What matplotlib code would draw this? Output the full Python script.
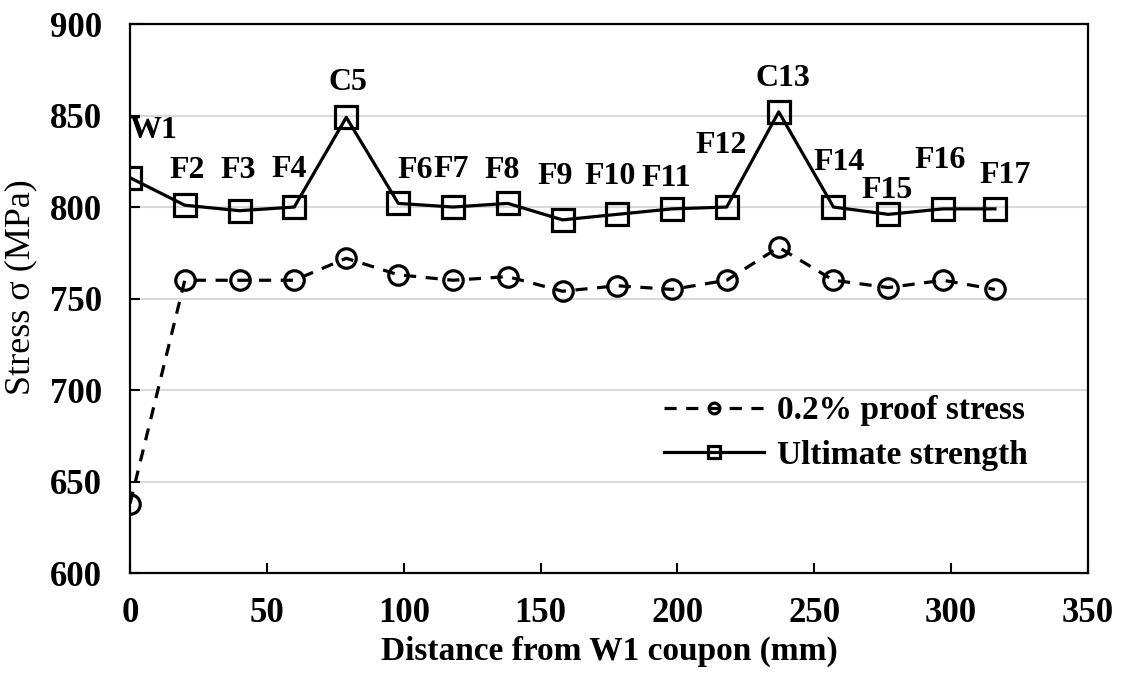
import matplotlib
matplotlib.use('Agg')
import matplotlib.pyplot as plt

plt.rcParams['font.family'] = ['Liberation Serif', 'DejaVu Serif']
plt.rcParams['font.weight'] = 'bold'

# data
labels = ['W1', 'F2', 'F3', 'F4', 'C5', 'F6', 'F7', 'F8', 'F9', 'F10',
          'F11', 'F12', 'C13', 'F14', 'F15', 'F16', 'F17']
distance = [0, 20, 40, 60, 79, 98, 118, 138, 158, 178, 198, 218, 237, 257, 277, 297, 316]
proof = [638, 760, 760, 760, 772, 763, 760, 762, 754, 757, 755, 760, 778, 760, 756, 760, 755]
ultimate = [816, 801, 798, 800, 849, 802, 800, 802, 793, 796, 799, 800, 852, 800, 796, 799, 799]

# label offsets (points) relative to the ultimate-strength markers
label_offsets = [(17, 34), (2, 25), (-1, 29), (-4, 27), (1, 25), (12, 24), (-1, 27),
                 (-4, 24), (-5, 31), (-5, 27), (-4, 22), (-4, 44), (3, 24), (4, 32),
                 (-1, 17), (-2, 35), (7, 24)]

fig = plt.figure(figsize=(11.24, 6.75), dpi=100)
ax = fig.add_axes([0.1157, 0.151, 0.8523, 0.8134])

ax.plot(distance, proof, color='black', linestyle=(0, (3.8, 3)), linewidth=2.3,
        marker='o', markersize=14, markerfacecolor='none', markeredgewidth=2.3,
        label='0.2% proof stress')
ax.plot(distance, ultimate, color='black', linestyle='-', linewidth=2.3,
        marker='s', markersize=16, markerfacecolor='none', markeredgewidth=2.3,
        label='Ultimate strength')

for lab, x, y, off in zip(labels, distance, ultimate, label_offsets):
    ax.annotate(lab, (x, y), xytext=off, textcoords='offset points',
                ha='center', va='center', fontsize=23, fontweight='bold')

ax.set_xlim(0, 350)
ax.set_ylim(600, 900)
ax.set_xticks(range(0, 351, 50))
ax.set_yticks(range(600, 901, 50))
ax.yaxis.grid(True, color='#d9d9d9', linewidth=1.5)
ax.set_axisbelow(True)

for s in ax.spines.values():
    s.set_linewidth(1.6)

ax.tick_params(axis='both', direction='in', length=7, width=1.5, labelsize=25)
ax.tick_params(axis='x', pad=17)
ax.tick_params(axis='y', pad=20)

ax.set_xlabel('Distance from W1 coupon (mm)', fontsize=24, fontweight='bold')
ax.set_ylabel('Stress σ (MPa)', fontsize=26, fontweight='normal')
ax.xaxis.set_label_coords(0.5, -0.115)
ax.yaxis.set_label_coords(-0.097, 0.52)

ax.legend(loc='center left', bbox_to_anchor=(0.54, 0.255), frameon=False,
          fontsize=24, handlelength=3.0, handletextpad=0.4, labelspacing=0.4,
          markerscale=0.55, borderpad=0)

fig.savefig('out.png', dpi=100)
